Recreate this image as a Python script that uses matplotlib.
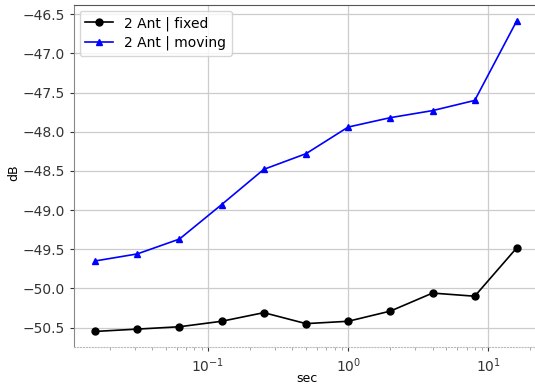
import matplotlib
matplotlib.use("Agg")
import matplotlib.pyplot as plt

# measurement intervals (sec) and mean levels (dB)
sec = [1/64, 1/32, 1/16, 1/8, 1/4, 1/2, 1, 2, 4, 8, 16]
fixed = [-50.55, -50.52, -50.49, -50.42, -50.31, -50.45, -50.42, -50.29, -50.06, -50.10, -49.48]
moving = [-49.65, -49.56, -49.37, -48.93, -48.48, -48.28, -47.94, -47.82, -47.73, -47.60, -46.58]

fig = plt.figure(figsize=(5.35, 3.85), dpi=100)
# axes run slightly past the right edge, as in the cropped original
ax = fig.add_axes([74/535, 1 - 347/385, (538 - 74)/535, (347 - 5)/385])

ax.plot(sec, fixed, color='black', marker='o', markersize=5, linewidth=1.2, label='2 Ant | fixed')
ax.plot(sec, moving, color='blue', marker='^', markersize=5, linewidth=1.2, label='2 Ant | moving')
ax.set_xscale('log')

ax.grid(True, color='#cccccc', linewidth=0.9)
ax.set_xlabel('sec', fontsize=9)
ax.set_ylabel('dB', fontsize=9)
ax.xaxis.set_label_coords(0.502, -0.072)
ax.yaxis.set_label_coords(-0.115, 0.51)
ax.tick_params(labelsize=10, colors='#333333', length=3)
ax.tick_params(axis='x', which='minor', colors='#999999', length=2)

ax.spines['top'].set_color('#555555')
ax.spines['left'].set_color('#888888')
ax.spines['bottom'].set_color('#bbbbbb')
ax.spines['bottom'].set_linestyle(':')
ax.spines['right'].set_visible(False)

ax.legend(loc='upper left', fontsize=10, borderaxespad=0.4, labelspacing=0.35)

fig.savefig('out.png', dpi=100)
